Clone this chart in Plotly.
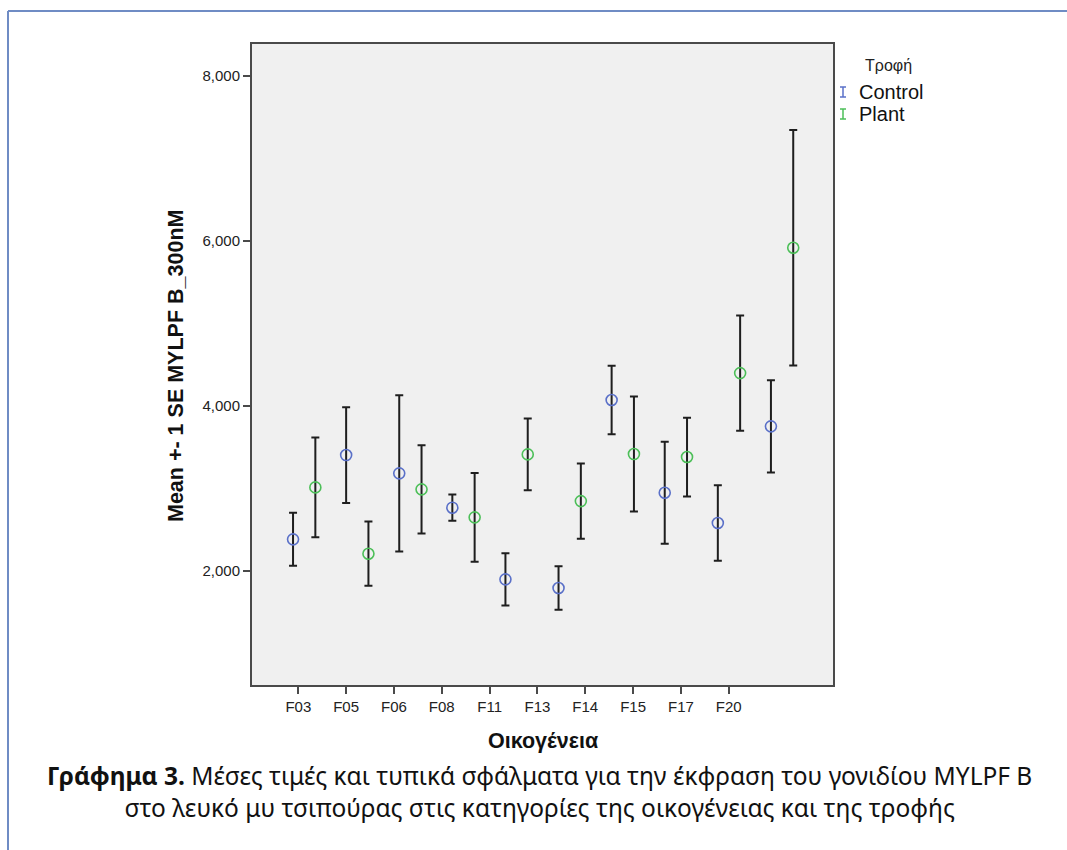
import plotly.graph_objects as go

# Families and the two feeding groups
families = ["F03", "F05", "F06", "F08", "F11", "F13", "F14", "F15", "F17", "F20"]
control_mean = [2384, 3406, 3184, 2768, 1899, 1794, 4073, 2949, 2582, 3754]
control_se = [321, 580, 948, 160, 317, 263, 416, 618, 459, 560]
plant_mean = [3014, 2210, 2990, 2651, 3414, 2848, 3418, 3382, 4400, 5919]
plant_se = [606, 390, 535, 538, 436, 457, 697, 477, 699, 1428]
y_ticks = [2000, 4000, 6000, 8000]

W, H = 1067, 850
L, R, T, B = 252, 833, 44, 685  # plot area in pixels

CONTROL_COLOR = "#5a70c8"
PLANT_COLOR = "#4cbf58"
FRAME = "#4a4a4a"
SANS = "Liberation Sans, Arial, sans-serif"

# clustered layout: each family is one unit wide, groups sit either side of it
dodge = 0.21
idx = list(range(len(families)))
x_control = [i - dodge for i in idx]
x_plant = [i + dodge for i in idx]
# category labels are spread a bit tighter than the clusters
label_start, label_step = -0.111, 0.9008
label_pos = [label_start + label_step * i for i in idx]


def px_x(px):
    return (px - L) / (R - L)


def px_y(py):
    return 1 - (py - T) / (B - T)


def group_trace(name, xs, means, ses, color):
    return go.Scatter(
        x=xs,
        y=means,
        mode="markers",
        name=name,
        showlegend=False,
        marker=dict(symbol="circle-open", size=11, color=color,
                    line=dict(width=1.6, color=color)),
        error_y=dict(type="data", array=ses, symmetric=True,
                     color="#1e1e1e", thickness=2, width=4),
        hovertemplate="%{y:,.0f}<extra>" + name + "</extra>",
    )


fig = go.Figure()
fig.add_trace(group_trace("Control", x_control, control_mean, control_se, CONTROL_COLOR))
fig.add_trace(group_trace("Plant", x_plant, plant_mean, plant_se, PLANT_COLOR))

axis_font = dict(family=SANS, size=15, color="#222")

fig.update_layout(
    width=W,
    height=H,
    margin=dict(l=L, r=W - R, t=T, b=H - B),
    paper_bgcolor="white",
    plot_bgcolor="#f0f0f0",
    showlegend=False,
    xaxis=dict(
        range=[-0.983, 9.959],
        tickmode="array",
        tickvals=label_pos,
        ticktext=families,
        ticks="outside",
        ticklen=7,
        tickwidth=2,
        tickcolor=FRAME,
        showgrid=False,
        zeroline=False,
        showline=True,
        linewidth=2,
        linecolor=FRAME,
        mirror=True,
        tickfont=axis_font,
    ),
    yaxis=dict(
        range=[618, 8390],
        tickmode="array",
        tickvals=y_ticks,
        tickformat=",d",
        ticks="outside",
        ticklen=7,
        tickwidth=2,
        tickcolor=FRAME,
        showgrid=False,
        zeroline=False,
        showline=True,
        linewidth=2,
        linecolor=FRAME,
        mirror=True,
        tickfont=axis_font,
    ),
)


def label(text, px, py, size, family=SANS, color="#111", xanchor="center", angle=0):
    return dict(text=text, xref="paper", yref="paper", x=px_x(px), y=px_y(py),
                xanchor=xanchor, yanchor="middle", textangle=angle, showarrow=False,
                font=dict(family=family, size=size, color=color))


ann = [
    # axis titles
    label("<b>Mean +- 1 SE MYLPF B_300nM</b>", 176, 366, 21.5, angle=-90),
    label("<b>Οικογένεια</b>", 543, 741, 21.5),
    # legend
    label("Τροφή", 888, 65, 16, color="#222"),
]
legend_rows = [("Control", CONTROL_COLOR, 92), ("Plant", PLANT_COLOR, 114)]
for name, color, py in legend_rows:
    ann.append(label(name, 857, py, 20, xanchor="left"))

# two-line caption under the chart
cap = "Noto Sans, Open Sans, sans-serif"
caption = ("<b>Γράφημα 3.</b> Μέσες τιμές και τυπικά σφάλματα για την έκφραση του γονιδίου MYLPF B"
           "<br>στο λευκό μυ τσιπούρας στις κατηγορίες της οικογένειας και της τροφής")
ann.append(label(caption, 539, 791, 24.5, family=cap))
fig.update_layout(annotations=ann)

# legend keys: small error-bar glyphs
for name, color, py in legend_rows:
    for x0, y0, x1, y1 in [(843, py - 5, 843, py + 5), (840, py - 5, 846, py - 5),
                           (840, py + 5, 846, py + 5)]:
        fig.add_shape(type="line", xref="paper", yref="paper",
                      x0=px_x(x0), y0=px_y(y0), x1=px_x(x1), y1=px_y(y1),
                      line=dict(color=color, width=1.5))

# page frame along the top and left edges
frame_color = "#6f8cc4"
fig.add_shape(type="line", xref="paper", yref="paper",
              x0=px_x(8), y0=px_y(11), x1=px_x(W + 2), y1=px_y(11),
              line=dict(color=frame_color, width=2))
fig.add_shape(type="line", xref="paper", yref="paper",
              x0=px_x(8), y0=px_y(11), x1=px_x(8), y1=px_y(H + 2),
              line=dict(color=frame_color, width=2))

fig.write_html("out.html")
